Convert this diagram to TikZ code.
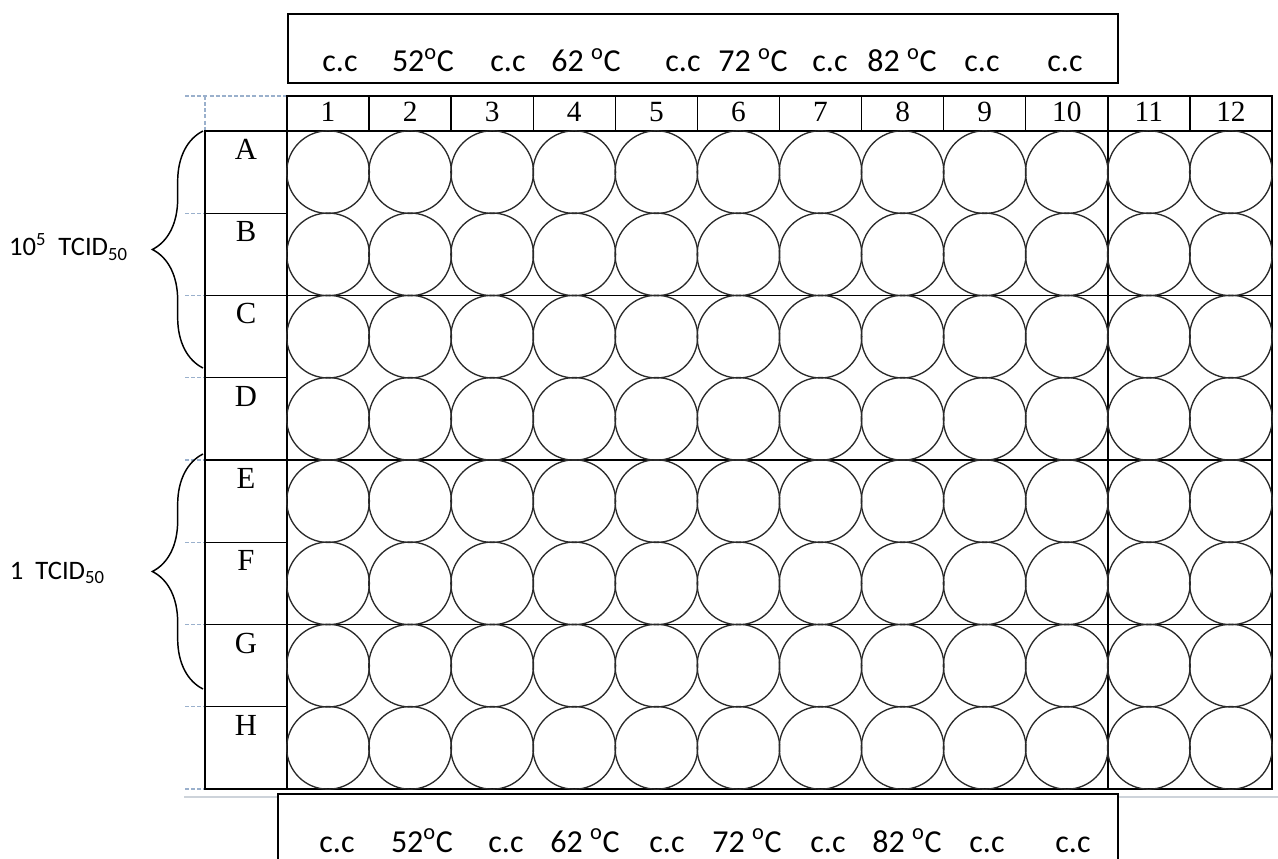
\documentclass[tikz,border=0pt]{standalone}
\usepackage{fontspec}
\setmainfont{Liberation Serif}
\newfontfamily\calib{Carlito}
\usepackage{tikz}
\usetikzlibrary{decorations.pathreplacing}
\definecolor{wellgray}{HTML}{2A2A2A}
\definecolor{guideblue}{HTML}{9AB0CC}
\definecolor{rulegray}{HTML}{CDD3DA}

\begin{document}
\begin{tikzpicture}[x=0.75pt, y=-0.75pt,
    plate/.style={draw, line width=1.1pt},
    well/.style={circle, draw=wellgray, line width=1pt, minimum size=62pt, inner sep=0pt},
    collab/.style={font=\fontsize{22}{22}\selectfont, anchor=base, inner sep=0pt},
    rowlab/.style={font=\fontsize{23}{23}\selectfont, anchor=base, inner sep=0pt},
    templab/.style={font=\calib\fontsize{24}{24}\selectfont, anchor=base, inner sep=0pt},
    doselab/.style={font=\calib\fontsize{20}{20}\selectfont, anchor=base east, inner sep=0pt},
    guide/.style={guideblue, line width=0.8pt, dash pattern=on 3pt off 1.6pt},
    brc/.style={decorate, decoration={brace, amplitude=38pt, aspect=0.5}, line width=1.1pt},
  ]
    \useasboundingbox (0,0) rectangle (1278,859);

    % temperature boxes
    \draw[plate] (288,14) rectangle (1118,83);
    \draw[rulegray, line width=2.2pt] (184,797) -- (278,797);
    \draw[rulegray, line width=2.2pt] (1119,797) -- (1278,797);
    \draw[plate] (278,862) -- (278,794) -- (1118,794) -- (1118,862);

    % guides
    \draw[guide] (185,96) -- (287,96);
    \draw[guide] (205,96) -- (205,131);
    \foreach \k in {1,...,8}
      \draw[guide] (185,{131+82.25*\k}) -- (205,{131+82.25*\k});

    % plate grid
    \draw[plate] (287,96) rectangle (1272,131);
    \foreach \c in {1,...,11}
      \draw[plate] ({287+82.08*\c},96) -- ({287+82.08*\c},131);
    \draw[plate] (205,131) rectangle (1272,789);
    \draw[plate] (287,131) -- (287,789);
    \draw[plate] ({287+82.08*10},131) -- ({287+82.08*10},789);
    \foreach \k in {1,3,5,7}
      \draw[plate] (205,{131+82.25*\k}) -- (287,{131+82.25*\k});
    \foreach \k in {2,4,6}
      \draw[plate] (205,{131+82.25*\k}) -- (1272,{131+82.25*\k});

    % labels and wells
    \foreach \c in {1,...,12}
      \node[collab] (c\c) at ({287+82.08*(\c-0.5)},122) {\c};
    \foreach \r [count=\i from 0] in {A,B,C,D,E,F,G,H} {
      \node[rowlab] (r\r) at (246,{131+82.25*\i+28.5}) {\r};
      \foreach \c in {1,...,12}
        \node[well] (w\r\c) at ({287+82.08*(\c-0.5)},{131+82.25*(\i+0.5)}) {};
    }

    % temperatures
    \foreach \x/\t [count=\k] in {340/c.c, 423/{52\textsuperscript{o}C}, 508/c.c,
        586/{62 \textsuperscript{o}C}, 683/c.c, 753/{72 \textsuperscript{o}C}, 830/c.c,
        902/{82 \textsuperscript{o}C}, 982/c.c, 1065/c.c}
      \node[templab] (top\k) at (\x,72) {\t};
    \foreach \x/\t [count=\k] in {337/c.c, 422/{52\textsuperscript{o}C}, 506/c.c,
        585/{62 \textsuperscript{o}C}, 667/c.c, 747/{72 \textsuperscript{o}C}, 828/c.c,
        907/{82 \textsuperscript{o}C}, 987/c.c, 1073/c.c}
      \node[templab] (bot\k) at (\x,852) {\t};

    % doses
    \coordinate (hiT) at (203,131);
    \coordinate (hiB) at (203,368);
    \coordinate (loT) at (203,454);
    \coordinate (loB) at (203,689);
    \draw[brc] (hiB) -- (hiT);
    \draw[brc] (loB) -- (loT);
    \node[doselab] (hidose) at (128,256) {10\textsuperscript{5}\ \ TCID\textsubscript{50}};
    \node[doselab] (lodose) at (105,579) {1\ \ TCID\textsubscript{50}};
  \end{tikzpicture}
\end{document}
